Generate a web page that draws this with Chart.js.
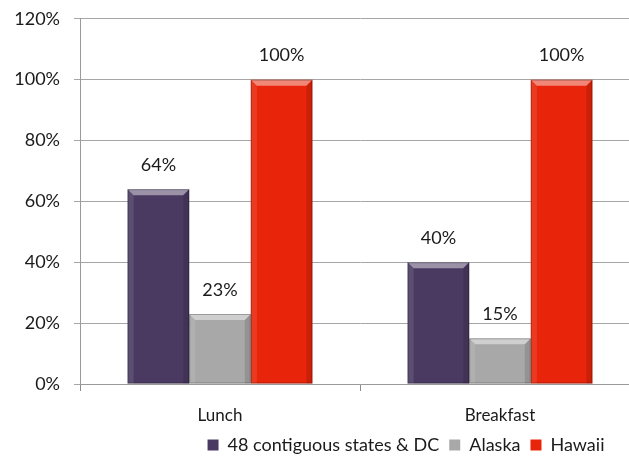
<!DOCTYPE html>
<html>
<head>
<meta charset="utf-8">
<script src="https://cdn.jsdelivr.net/npm/chart.js@4"></script>
<style>
  html, body { margin: 0; padding: 0; background: #fff; overflow: hidden; }
  #wrap { position: absolute; left: 0; top: -6px; width: 660px; height: 481px; }
</style>
</head>
<body>
<div id="wrap"><canvas id="meals"></canvas></div>
<script>
// 급식 참여율: 점심 / 아침
const categories = ["Lunch", "Breakfast"];
const seriesNames = ["48 contiguous states & DC", "Alaska", "Hawaii"];
const contiguous = [64, 40];
const alaska = [23, 15];
const hawaii = [100, 100];
const yTicks = [0, 20, 40, 60, 80, 100, 120];

const colors = ["#4a3a62", "#a8a8a8", "#e8250a"];
const FONT = "Lato, 'Open Sans', sans-serif";

// 막대 위 값 라벨
const valueLabels = {
  id: "valueLabels",
  afterDatasetsDraw(chart) {
    const { ctx } = chart;
    ctx.save();
    ctx.font = `18px ${FONT}`;
    ctx.fillStyle = "#1a1a1a";
    ctx.textAlign = "center";
    ctx.textBaseline = "middle";
    chart.data.datasets.forEach((ds, i) => {
      chart.getDatasetMeta(i).data.forEach((bar, j) => {
        ctx.fillText(ds.data[j] + "%", bar.x, bar.y - 24);
      });
    });
    ctx.restore();
  }
};

// 베벨 효과 (윗면 밝게, 옆/아래 어둡게)
const bevel = {
  id: "bevel",
  afterDatasetsDraw(chart) {
    const { ctx } = chart;
    ctx.save();
    chart.data.datasets.forEach((ds, i) => {
      chart.getDatasetMeta(i).data.forEach(bar => {
        const { x, y, base, width } = bar.getProps(["x", "y", "base", "width"], true);
        const l = x - width / 2, r = x + width / 2, t = y, b = base, e = 6;
        ctx.fillStyle = "rgba(255,255,255,0.45)";
        ctx.beginPath();
        ctx.moveTo(l, t); ctx.lineTo(r, t); ctx.lineTo(r - e, t + e); ctx.lineTo(l + e, t + e);
        ctx.closePath(); ctx.fill();
        ctx.fillStyle = "rgba(255,255,255,0.10)";
        ctx.beginPath();
        ctx.moveTo(l, t); ctx.lineTo(l + e, t + e); ctx.lineTo(l + e, b); ctx.lineTo(l, b);
        ctx.closePath(); ctx.fill();
        ctx.fillStyle = "rgba(0,0,0,0.12)";
        ctx.beginPath();
        ctx.moveTo(r, t); ctx.lineTo(r - e, t + e); ctx.lineTo(r - e, b); ctx.lineTo(r, b);
        ctx.closePath(); ctx.fill();
        ctx.strokeStyle = "rgba(0,0,0,0.25)";
        ctx.lineWidth = 1;
        ctx.strokeRect(l + 0.5, t + 0.5, width - 1, b - t - 1);
      });
    });
    ctx.restore();
  }
};

// 범례를 오른쪽으로 이동
const legendShift = {
  id: "legendShift",
  afterLayout(chart) {
    chart.legend.left += 86;
    chart.legend.right += 86;
  }
};

new Chart(document.getElementById("meals"), {
  type: "bar",
  data: {
    labels: categories,
    datasets: [contiguous, alaska, hawaii].map((d, i) => ({
      label: seriesNames[i],
      data: d,
      backgroundColor: colors[i],
      categoryPercentage: 0.66,
      barPercentage: 1.0
    }))
  },
  options: {
    responsive: true,
    maintainAspectRatio: false,
    animation: false,
    layout: { padding: { left: 0, right: 20, top: 12, bottom: 11 } },
    plugins: {
      tooltip: { enabled: false },
      legend: {
        position: "bottom",
        labels: {
          font: { family: FONT, size: 18 },
          color: "#1a1a1a",
          boxWidth: 11,
          boxHeight: 11,
          padding: 10
        }
      }
    },
    scales: {
      x: {
        afterFit: s => { s.height = 42; },
        grid: { display: true, drawOnChartArea: false, drawTicks: true, tickLength: 7, color: "#8c8c8c" },
        border: { color: "#9a9a9a" },
        ticks: { font: { family: FONT, size: 17 }, color: "#1a1a1a", padding: 14 }
      },
      y: {
        min: 0,
        max: 120,
        afterFit: s => { s.width = 80; },
        afterBuildTicks: s => { s.ticks = yTicks.map(v => ({ value: v })); },
        grid: { color: "#a6a6a6", tickLength: 6 },
        border: { color: "#9a9a9a" },
        ticks: {
          font: { family: FONT, size: 18 },
          color: "#1a1a1a",
          padding: 14,
          callback: v => v + "%"
        }
      }
    }
  },
  plugins: [valueLabels, bevel, legendShift]
});
</script>
</body>
</html>
